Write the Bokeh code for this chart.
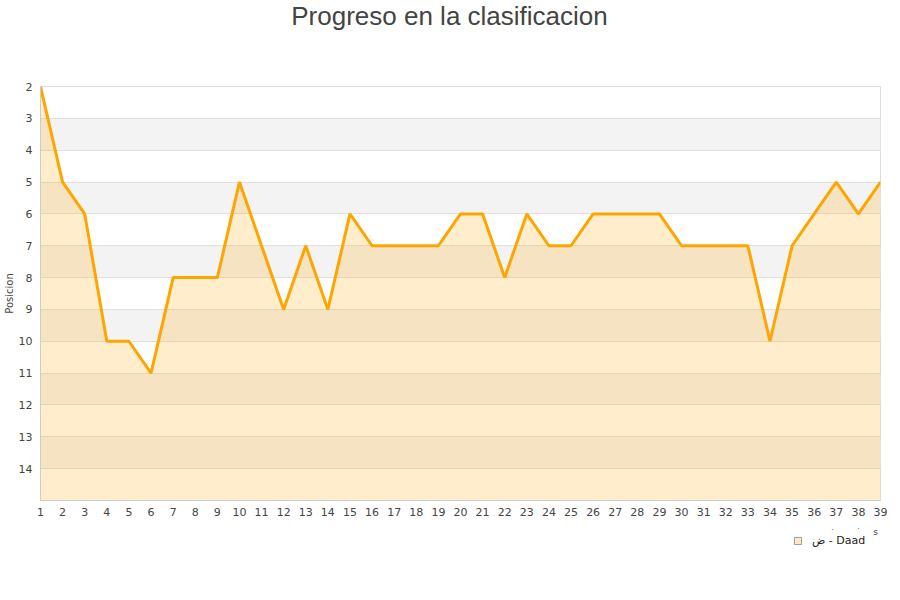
from bokeh.plotting import figure
from bokeh.models import Range1d, FixedTicker, Legend, LegendItem, Label
from bokeh.layouts import column
from bokeh.embed import file_html
from bokeh.resources import INLINE

jornadas = list(range(1, 40))
posicion = [2, 5, 6, 10, 10, 11, 8, 8, 8, 5, 7, 9, 7, 9, 6, 7, 7, 7, 7, 6,
            6, 8, 6, 7, 7, 6, 6, 6, 6, 7, 7, 7, 7, 10, 7, 6, 5, 6, 5]
y_ticks = list(range(2, 15))
y_bottom = 15
y_top = 2
team = "ض - Daad"
title_text = "Progreso en la clasificacion"
W = 900
FRAME_L, FRAME_R = 40, 880


def blank(height):
    # frames in a column are aligned to the main chart's frame,
    # so map the data range to the page pixels of that frame
    f = figure(width=W, height=height, output_backend="svg",
               toolbar_location=None, x_range=Range1d(FRAME_L, FRAME_R),
               y_range=Range1d(height, 0), min_border=0,
               min_border_left=FRAME_L, min_border_right=W - FRAME_R)
    f.axis.visible = False
    f.grid.visible = False
    f.outline_line_color = None
    return f


# header with title
header = blank(60)
header.add_layout(Label(x=449, y=15, text=title_text,
                        text_font="Liberation Sans", text_font_size="26px",
                        text_color="#444444", text_align="center",
                        text_baseline="middle"))

# main chart
p = figure(width=W, height=462, output_backend="svg", toolbar_location=None,
           x_range=Range1d(1, 39), y_range=Range1d(y_bottom, y_top),
           min_border_left=FRAME_L, min_border_right=W - FRAME_R,
           min_border_top=26, min_border_bottom=22)
p.outline_line_color = "#dddddd"
p.background_fill_color = "white"

p.ygrid.ticker = FixedTicker(ticks=y_ticks)
p.ygrid.grid_line_color = "#e0e0e0"
p.ygrid.band_fill_color = "#f3f3f3"
p.ygrid.band_fill_alpha = 1.0
p.xgrid.grid_line_color = None

p.yaxis.ticker = FixedTicker(ticks=y_ticks)
p.xaxis.ticker = FixedTicker(ticks=jornadas)
for ax in (p.xaxis, p.yaxis):
    ax.axis_line_color = "#cccccc"
    ax.major_tick_line_color = None
    ax.minor_tick_line_color = None
    ax.major_tick_out = 0
    ax.major_tick_in = 0
    ax.major_label_text_font = "DejaVu Sans"
    ax.major_label_text_font_size = "11px"
    ax.major_label_text_color = "#444444"
p.yaxis.axis_label = "Posicion"
p.yaxis.axis_label_text_font = "DejaVu Sans"
p.yaxis.axis_label_text_font_size = "10px"
p.yaxis.axis_label_text_font_style = "normal"
p.yaxis.axis_label_text_color = "#444444"
p.yaxis.axis_label_standoff = 1
p.yaxis.major_label_standoff = 8
p.xaxis.major_label_standoff = 7

p.varea(x=jornadas, y1=posicion, y2=[y_bottom] * len(jornadas),
        fill_color="#ffa500", fill_alpha=0.2)
p.line(jornadas, posicion, line_color="#ffa500", line_width=3)

# footer with axis tail text and legend
footer = blank(78)
footer.add_layout(Label(x=875, y=9, text="s", text_font="DejaVu Sans",
                        text_font_size="9px", text_color="#444444",
                        text_align="center", text_baseline="middle"))
for dx, dy in ((832, 4), (858, 3)):
    footer.add_layout(Label(x=dx, y=dy, text=".", text_font="DejaVu Sans",
                            text_font_size="8px", text_color="#666666",
                            text_align="center", text_baseline="middle"))
dummy = footer.quad(left=[0], right=[1], top=[-20], bottom=[-10],
                    fill_color="#fde8c0", line_color="#999999")
legend = Legend(items=[LegendItem(label=team, renderers=[dummy])],
                location=(753, 53), orientation="horizontal",
                border_line_color=None, background_fill_alpha=0,
                label_text_font="DejaVu Sans", label_text_font_size="11px",
                label_text_color="#222222",
                glyph_width=9, glyph_height=9, padding=2, margin=0,
                label_standoff=10, label_height=12)
footer.add_layout(legend)

layout = column(header, p, footer, spacing=0)
open("out.html", "w").write(file_html(layout, INLINE))
